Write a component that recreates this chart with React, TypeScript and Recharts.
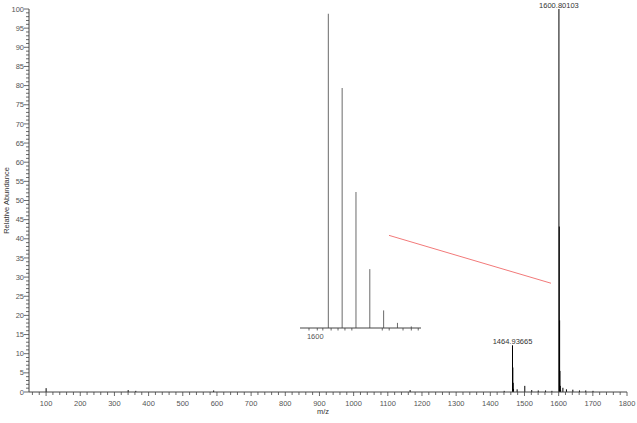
import {
  Bar,
  BarChart,
  ComposedChart,
  LabelList,
  ReferenceLine,
  XAxis,
  YAxis,
} from 'recharts'

// main spectrum
const mainMz = [
  100.1, 340.2, 362.5, 590.4, 1165.3, 1440.6, 1464.94, 1465.94, 1466.94,
  1467.94, 1478.5, 1500.9, 1521.2, 1540.3, 1561.7, 1580.2, 1600.8, 1601.8,
  1602.8, 1603.8, 1604.8, 1605.8, 1612.4, 1622.8, 1641.5, 1660.9, 1679.3,
  1700.5,
]
const mainAbundance = [
  1.0, 0.5, 0.3, 0.4, 0.5, 0.3, 12.2, 6.4, 2.4, 0.8, 0.7, 1.6, 0.5, 0.4, 0.4,
  0.3, 100, 43.2, 18.7, 5.5, 1.6, 0.5, 1.1, 0.7, 0.6, 0.4, 0.4, 0.3,
]
const peakLabels = [
  { mz: 1600.8, text: '1600.80103' },
  { mz: 1464.94, text: '1464.93665' },
]

// zoomed isotope cluster (inset)
const insetMz = [1600.8, 1601.8, 1602.8, 1603.8, 1604.8, 1605.8, 1606.8]
const insetAbundance = [98.2, 75.0, 42.5, 18.4, 5.5, 1.6, 0.5]
const insetTicks = [
  1599.4, 1600, 1600.4, 1601, 1601.5, 1602, 1602.5, 1604.7, 1605.2, 1606.2,
  1606.8, 1607.3,
]

const xMajorTicks = [
  100, 200, 300, 400, 500, 600, 700, 800, 900, 1000, 1100, 1200, 1300, 1400,
  1500, 1600, 1700, 1800,
]
const yMajorTicks = [
  0, 5, 10, 15, 20, 25, 30, 35, 40, 45, 50, 55, 60, 65, 70, 75, 80, 85, 90, 95,
  100,
]

// minor ticks: 5 per x major step, 5 per y major step
const xTicks = [60, 80, ...xMajorTicks.flatMap((t) => (t < 1800 ? [t, t + 20, t + 40, t + 60, t + 80] : [t]))]
const yTicks = yMajorTicks.flatMap((t) => (t < 100 ? [t, t + 1, t + 2, t + 3, t + 4] : [t]))

const mainData = mainMz.map((mz, i) => ({
  mz,
  abundance: mainAbundance[i],
  label: peakLabels.find((p) => p.mz === mz)?.text ?? null,
}))
const insetData = insetMz.map((mz, i) => ({ mz, abundance: insetAbundance[i] }))

const axisColor = '#444'
const textColor = '#555'

const Stick = (props: any) => {
  const { x, y, width, height, fill } = props
  const cx = x + width / 2
  return <line x1={cx} x2={cx} y1={y} y2={y + height} stroke={fill} strokeWidth={1} />
}

const YTick = ({ x, y, payload }: any) => {
  const major = payload.value % 5 === 0
  return (
    <g>
      <line x1={x - (major ? 5 : 3)} x2={x} y1={y} y2={y} stroke={axisColor} strokeWidth={0.8} />
      {major && (
        <text x={x - 5} y={y} dy={2.6} textAnchor="end" fontSize={7.5} fill={textColor}>
          {payload.value}
        </text>
      )}
    </g>
  )
}

const XTick = ({ x, y, payload }: any) => {
  const major = payload.value % 100 === 0
  return (
    <g>
      <line x1={x} x2={x} y1={y} y2={y + (major ? 4 : 3)} stroke={axisColor} strokeWidth={0.8} />
      {major && (
        <text x={x} y={y + 14} textAnchor="middle" fontSize={7.5} fill={textColor}>
          {payload.value}
        </text>
      )}
    </g>
  )
}

const InsetTick = ({ x, y, payload }: any) => (
  <g>
    <line x1={x} x2={x} y1={y} y2={y + 2.5} stroke={axisColor} strokeWidth={0.8} />
    {payload.value === 1600 && (
      <text x={x - 2} y={y + 11} textAnchor="middle" fontSize={7.5} fill={textColor}>
        1600
      </text>
    )}
  </g>
)

const YTitle = ({ viewBox }: any) => {
  const cy = viewBox.y + viewBox.height / 2
  return (
    <text x={9} y={cy} transform={`rotate(-90 9 ${cy})`} textAnchor="middle" fontSize={7.5} fill="#333">
      Relative Abundance
    </text>
  )
}

export default function App() {
  return (
    <div
      style={{
        position: 'absolute',
        left: 0,
        top: 0,
        width: 637,
        height: 423,
        background: '#fff',
        fontFamily: '"Liberation Sans", Arial, sans-serif',
      }}
    >
      <ComposedChart
        width={637}
        height={423}
        data={mainData}
        margin={{ top: 9, right: 10, left: 0, bottom: 0 }}
      >
        <XAxis
          dataKey="mz"
          type="number"
          domain={[50, 1800]}
          allowDataOverflow
          ticks={xTicks}
          interval={0}
          tickSize={0}
          tickMargin={0}
          tick={<XTick />}
          height={31}
          stroke={axisColor}
          label={{ value: 'm/z', position: 'insideBottom', offset: 9, fontSize: 7.5, fill: '#333', dx: -5 }}
        />
        <YAxis
          type="number"
          domain={[0, 100]}
          ticks={yTicks}
          interval={0}
          tickSize={0}
          tickMargin={0}
          tick={<YTick />}
          width={29}
          stroke={axisColor}
          label={<YTitle />}
        />
        <ReferenceLine
          segment={[
            { x: 1103.5, y: 40.9 },
            { x: 1577.6, y: 28.4 },
          ]}
          stroke="#f27a7a"
          strokeWidth={1}
        />
        <Bar dataKey="abundance" fill="#000" shape={<Stick />} isAnimationActive={false}>
          <LabelList dataKey="label" position="top" offset={1} fontSize={7.5} fill="#333" />
        </Bar>
      </ComposedChart>

      <div style={{ position: 'absolute', left: 295, top: 0 }}>
        <BarChart
          width={130}
          height={345}
          data={insetData}
          margin={{ top: 8, right: 4, left: 5, bottom: 0 }}
        >
          <XAxis
            dataKey="mz"
            type="number"
            domain={[1598.75, 1607.5]}
            allowDataOverflow
            ticks={insetTicks}
            interval={0}
            tickSize={0}
            tickMargin={0}
            tick={<InsetTick />}
            height={17}
            stroke={axisColor}
          />
          <YAxis hide domain={[0, 100]} />
          <Bar dataKey="abundance" fill="#6a6a6a" shape={<Stick />} isAnimationActive={false} />
        </BarChart>
      </div>
    </div>
  )
}
